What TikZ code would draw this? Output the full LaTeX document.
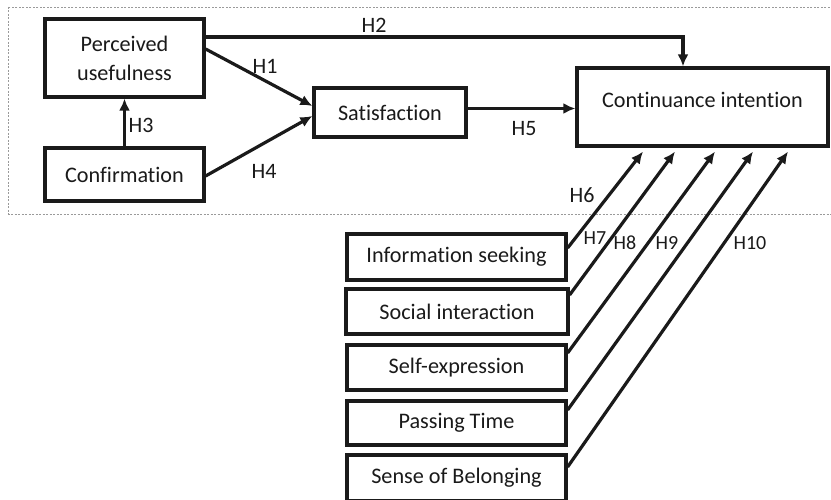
\documentclass[tikz,border=0pt]{standalone}
\usepackage{fontspec}
\setmainfont{Carlito}[Ligatures=NoCommon]
\usetikzlibrary{arrows.meta}
\definecolor{dashgray}{HTML}{9A9A9A}
\definecolor{ink}{HTML}{1A1A1A}
\tikzset{
  x=1pt, y=-1pt,
  box/.style={draw=ink, line width=3.2pt, fill=white, inner sep=0pt, font=\fontsize{22.2}{29}\selectfont, text=ink, align=center},
  arr/.style={draw=ink, line width=3.2pt, -{Latex[length=12pt,width=11pt]}},
  hlab/.style={font=\fontsize{22}{24}\selectfont, text=ink, inner sep=0pt},
  slab/.style={font=\fontsize{20}{22}\selectfont, text=ink, inner sep=0pt},
  frame/.style={draw=dashgray, line width=0.9pt, dash pattern=on 2pt off 1.5pt}
}
\begin{document}
\begin{tikzpicture}
\useasboundingbox (0,0) rectangle (831,500);
\draw[frame] (8,7) rectangle (840,214);

\node[box, minimum width=159, minimum height=78] (pu) at (124.5,58) {Perceived\\usefulness};
\node[box, minimum width=159, minimum height=53] (conf) at (124.5,174.5) {Confirmation};
\node[box, minimum width=152, minimum height=49] (sat) at (390,112.5) {Satisfaction};
\node[box, minimum width=251, minimum height=78] (ci) at (702.5,107) {};
\node[box, draw=none, fill=none] (citext) at (702.5,100) {Continuance intention};

\node[box, minimum width=219, minimum height=46] (info) at (456.5,257) {Information seeking};
\node[box, minimum width=222, minimum height=45] (soc) at (457,311.5) {Social interaction};
\node[box, minimum width=219, minimum height=45] (self) at (456.5,367.5) {Self-expression};
\node[box, minimum width=219, minimum height=44] (pass) at (456.5,423) {Passing Time};
\node[box, minimum width=219, minimum height=46] (sense) at (456.5,478) {Sense of Belonging};

\draw[arr] (conf.north) -- (pu.south);
\draw[arr] ([yshift=9pt]pu.east) -- ([yshift=6.5pt]sat.west);
\draw[arr] ([yshift=-1.5pt]conf.east) -- ([yshift=-3.5pt]sat.west);
\draw[arr] ([yshift=21pt]pu.east) -| ([xshift=-19.5pt]ci.north);
\draw[arr] ([yshift=4pt]sat.east) -- ([yshift=4pt]sat.east -| ci.west);

\draw[arr] ([yshift=9pt]info.east) -- ([xshift=-59.5pt,yshift=-4pt]ci.south);
\draw[arr] ([yshift=16.5pt]soc.east) -- ([xshift=-27.5pt,yshift=-4pt]ci.south);
\draw[arr] ([yshift=14.5pt]self.east) -- ([xshift=12.5pt,yshift=-4pt]ci.south);
\draw[arr] ([yshift=13pt]pass.east) -- ([xshift=50.5pt,yshift=-4pt]ci.south);
\draw[arr] ([yshift=11pt]sense.east) -- ([xshift=85.5pt,yshift=-4pt]ci.south);

\node[hlab] (h1) at (265,66) {H1};
\node[hlab] (h2) at (374,25) {H2};
\node[hlab] (h3) at (141,125) {H3};
\node[hlab] (h4) at (264,171) {H4};
\node[hlab] (h5) at (524,129) {H5};
\node[hlab] (h6) at (582,195) {H6};
\node[slab] (h7) at (595,238) {H7};
\node[slab] (h8) at (625,243) {H8};
\node[slab] (h9) at (667,243) {H9};
\node[slab] (h10) at (750,243) {H10};
\end{tikzpicture}
\end{document}
